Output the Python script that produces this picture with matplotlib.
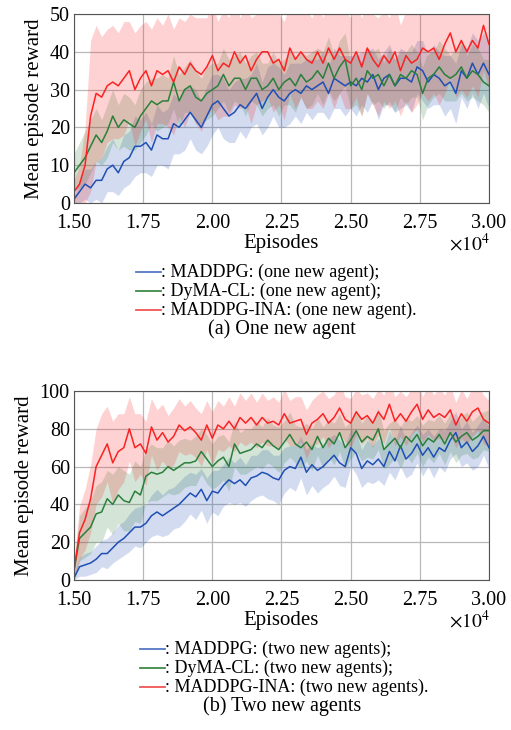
import numpy as np
import matplotlib
matplotlib.use('Agg')
import matplotlib.pyplot as plt
from matplotlib.lines import Line2D

plt.rcParams['font.family'] = ['Liberation Serif', 'DejaVu Serif']
plt.rcParams['mathtext.fontset'] = 'stix'

# episodes (x1e4), one sample every 200 episodes
episodes = np.round(np.arange(1.50, 3.0001, 0.02), 2)

# (a) one new agent
one_maddpg = [1, 3, 5, 4, 6, 6, 9, 10, 8, 11, 12, 15, 15, 16, 14, 18, 17, 17, 21, 20,
              22, 24, 22, 20, 23, 26, 27, 25, 23, 24, 26, 25, 27, 29, 25, 28, 30, 28, 27, 29,
              30, 29, 31, 30, 31, 32, 29, 33, 32, 31, 32, 31, 33, 32, 34, 30, 33, 34, 31, 33,
              33, 32, 36, 35, 32, 34, 33, 31, 32, 29, 35, 33, 37, 34, 37, 34]
one_dyma = [8, 10, 12, 15, 18, 16, 19, 23, 20, 22, 21, 20, 23, 25, 27, 26, 27, 27, 32, 27,
            30, 31, 28, 27, 29, 30, 31, 34, 31, 33, 33, 30, 33, 33, 30, 31, 33, 30, 32, 33,
            31, 34, 32, 33, 35, 33, 37, 33, 36, 38, 31, 33, 30, 35, 33, 34, 31, 34, 31, 34,
            33, 35, 34, 29, 33, 34, 36, 34, 33, 34, 36, 33, 35, 34, 32, 31]
one_ina = [3, 5, 10, 23, 29, 28, 31, 32, 31, 33, 35, 30, 33, 35, 31, 35, 34, 35, 32, 36,
           34, 37, 35, 34, 36, 39, 35, 37, 36, 40, 37, 39, 35, 38, 40, 40, 37, 38, 35, 41,
           38, 40, 38, 37, 40, 37, 41, 38, 41, 38, 37, 40, 36, 41, 38, 36, 39, 37, 40, 35,
           39, 37, 38, 41, 40, 41, 38, 42, 45, 40, 43, 40, 43, 41, 47, 42]
one_maddpg_sd = [1, 3, 4, 5, 5, 6, 6, 7, 6, 7, 7, 8, 7, 8, 7, 8, 7, 8, 8, 7,
                 8, 7, 8, 7, 8, 8, 7, 8, 7, 8, 7, 8, 7, 8, 7, 8, 7, 8, 7, 8,
                 7, 8, 7, 8, 7, 8, 7, 8, 7, 8, 7, 8, 7, 8, 7, 8, 7, 8, 7, 8,
                 7, 8, 7, 8, 7, 8, 7, 8, 7, 8, 7, 8, 8, 9, 8, 9]
one_dyma_sd = [5, 6, 7, 7, 7, 6, 7, 7, 6, 7, 7, 6, 7, 7, 6, 7, 7, 6, 7, 7,
               6, 7, 7, 6, 7, 7, 6, 7, 7, 6, 7, 7, 6, 7, 7, 6, 7, 7, 6, 7,
               7, 6, 7, 7, 6, 7, 7, 6, 7, 7, 6, 7, 7, 6, 7, 7, 6, 7, 7, 6,
               7, 7, 6, 7, 7, 6, 7, 7, 6, 7, 7, 6, 7, 7, 6, 7]
one_ina_sd = [3, 5, 10, 20, 18, 16, 15, 15, 14, 15, 13, 15, 14, 13, 15, 14, 13, 15, 14, 13,
              14, 13, 14, 15, 13, 14, 13, 14, 13, 14, 12, 13, 14, 12, 13, 12, 13, 12, 13, 12,
              13, 12, 13, 12, 13, 12, 12, 13, 12, 13, 12, 12, 13, 12, 12, 13, 12, 12, 13, 12,
              12, 13, 12, 12, 13, 12, 12, 13, 12, 12, 13, 12, 12, 13, 12, 12]

# (b) two new agents
two_maddpg = [1, 7, 8, 9, 11, 14, 14, 17, 20, 22, 25, 28, 28, 30, 34, 36, 34, 36, 38, 40,
              43, 46, 44, 48, 42, 47, 46, 50, 53, 51, 53, 50, 54, 55, 57, 56, 54, 53, 58, 60,
              59, 65, 57, 61, 58, 60, 63, 66, 62, 60, 70, 67, 59, 63, 61, 64, 60, 68, 63, 71,
              64, 67, 72, 66, 70, 65, 70, 68, 74, 78, 70, 73, 68, 71, 76, 70]
two_dyma = [5, 22, 25, 28, 35, 36, 43, 40, 45, 42, 41, 47, 45, 55, 57, 56, 57, 60, 58, 60,
            62, 62, 63, 68, 64, 60, 63, 65, 60, 72, 67, 68, 69, 72, 70, 74, 71, 69, 73, 77,
            72, 70, 73, 69, 76, 70, 75, 72, 78, 70, 74, 79, 73, 76, 74, 80, 69, 72, 75, 70,
            76, 73, 77, 71, 75, 73, 77, 72, 78, 73, 76, 78, 74, 76, 79, 79]
two_ina = [5, 25, 32, 43, 60, 66, 72, 62, 68, 70, 80, 70, 72, 67, 81, 74, 78, 73, 76, 82,
           79, 81, 78, 74, 82, 75, 82, 80, 84, 80, 86, 83, 86, 82, 86, 83, 84, 82, 88, 83,
           84, 85, 77, 83, 85, 88, 83, 86, 91, 85, 83, 89, 85, 87, 83, 89, 85, 93, 84, 88,
           84, 89, 93, 85, 90, 86, 88, 86, 90, 82, 88, 84, 89, 91, 85, 83]
two_maddpg_sd = [2, 5, 6, 6, 7, 7, 8, 8, 9, 9, 10, 10, 11, 10, 11, 12, 11, 12, 11, 12,
                 12, 11, 12, 11, 12, 11, 12, 11, 12, 11, 12, 11, 12, 11, 12, 13, 12, 13, 12, 11,
                 12, 11, 12, 11, 12, 11, 12, 11, 12, 11, 10, 11, 10, 11, 10, 11, 10, 11, 10, 11,
                 10, 11, 10, 11, 10, 11, 10, 11, 10, 11, 10, 11, 10, 11, 10, 11]
two_dyma_sd = [5, 12, 13, 14, 15, 16, 15, 16, 15, 16, 15, 16, 15, 14, 15, 14, 13, 14, 13, 14,
               13, 12, 13, 12, 13, 12, 13, 12, 13, 12, 11, 12, 11, 12, 11, 12, 11, 12, 11, 12,
               10, 11, 10, 11, 10, 11, 10, 11, 10, 11, 10, 11, 10, 11, 10, 11, 10, 11, 10, 11,
               10, 11, 10, 11, 10, 11, 10, 11, 10, 11, 10, 11, 10, 11, 10, 11]
two_ina_sd = [5, 14, 16, 18, 20, 22, 20, 22, 20, 18, 17, 18, 16, 17, 15, 16, 15, 14, 15, 14,
              13, 14, 13, 14, 13, 14, 13, 12, 13, 12, 13, 12, 13, 12, 13, 12, 13, 12, 13, 12,
              13, 12, 13, 12, 13, 12, 13, 12, 13, 12, 13, 12, 13, 12, 13, 12, 13, 12, 13, 12,
              13, 12, 13, 12, 13, 12, 13, 12, 13, 12, 13, 12, 13, 12, 13, 12]

names = ['MADDPG', 'DyMA-CL', 'MADDPG-INA']
line_colors = ['#1f4fb4', '#2a7f3a', '#fa2222']
legend_colors = ['#5577c4', '#3f8a4a', '#f05555']

panels = [
    dict(means=[one_maddpg, one_dyma, one_ina], sds=[one_maddpg_sd, one_dyma_sd, one_ina_sd],
         ymax=50, yticks=[0, 10, 20, 30, 40, 50], suffix='(one new agent)',
         caption='(a) One new agent', top=14, lx=136),
    dict(means=[two_maddpg, two_dyma, two_ina], sds=[two_maddpg_sd, two_dyma_sd, two_ina_sd],
         ymax=100, yticks=[0, 20, 40, 60, 80, 100], suffix='(two new agents)',
         caption='(b) Two new agents', top=391, lx=140),
]

W, H = 511, 730
fig = plt.figure(figsize=(W / 100, H / 100), dpi=100)

for p in panels:
    top = p['top']
    ax = fig.add_axes([74 / W, 1 - (top + 189) / H, 415 / W, 189 / H])
    for m, sd, c in zip(p['means'], p['sds'], line_colors):
        m = np.array(m, dtype=float)
        sd = np.array(sd, dtype=float)
        ax.fill_between(episodes, np.clip(m - sd, 0, None), m + sd, color=c, alpha=0.2, lw=0)
    for m, c in zip(p['means'], line_colors):
        ax.plot(episodes, m, color=c, lw=1.1)
    ax.set_xlim(1.5, 3.0)
    ax.set_ylim(0, p['ymax'])
    ax.set_xticks([1.5, 1.75, 2.0, 2.25, 2.5, 2.75, 3.0])
    ax.set_xticklabels(['%.2f' % v for v in ax.get_xticks()])
    ax.set_yticks(p['yticks'])
    ax.grid(True, color='#b8b8b8', lw=0.9)
    ax.set_axisbelow(True)
    ax.tick_params(length=0, labelsize=14.5)
    ax.tick_params(axis='x', pad=8)
    ax.tick_params(axis='y', pad=3)
    for s in ax.spines.values():
        s.set_color('#555555')
        s.set_linewidth(0.8)
    ax.set_ylabel('Mean episode reward', fontsize=15, labelpad=4)
    fig.text(281 / W, 1 - (top + 230) / H, 'Episodes', fontsize=15, ha='center', va='center')
    fig.text(490 / W, 1 - (top + 230) / H, r'$\times 10^4$', fontsize=14, ha='right', va='center')

    # legend below the axes
    base = top + 258
    lx = p['lx']
    for i, (n, lc) in enumerate(zip(names, legend_colors)):
        y = 1 - (base + i * 19) / H
        fig.add_artist(Line2D([lx / W, (lx + 25) / W], [y, y], color=lc, lw=1.3,
                              transform=fig.transFigure))
        fig.text((lx + 25) / W, y, ': %s: %s%s' % (n, p['suffix'], ';' if i < 2 else '.'),
                 fontsize=13, ha='left', va='center')
    fig.text(282 / W, 1 - (base + 57) / H, p['caption'], fontsize=14.5, ha='center', va='center')

fig.savefig('out.png', dpi=100)
